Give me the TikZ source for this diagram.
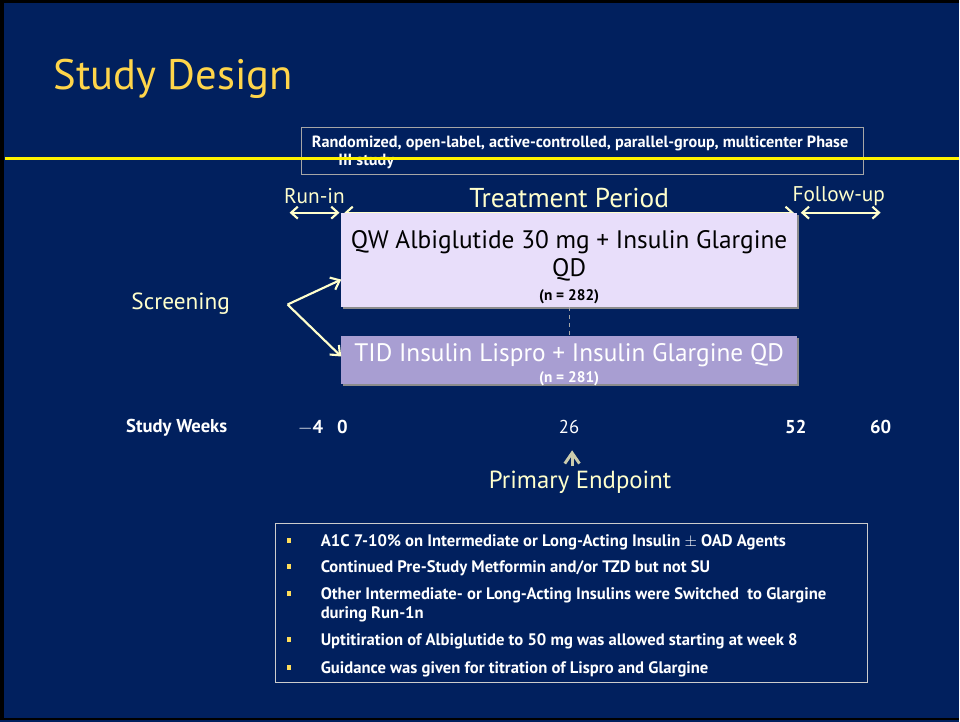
\documentclass[tikz,border=0pt]{standalone}
\usepackage{fontspec}
\setmainfont{PT Sans}
\usetikzlibrary{arrows.meta}

\definecolor{slidebg}{RGB}{1,32,94}
\definecolor{titlegold}{RGB}{255,213,74}
\definecolor{cream}{RGB}{255,255,204}
\definecolor{armone}{RGB}{232,222,250}
\definecolor{armtwo}{RGB}{168,158,210}
\definecolor{bulletgold}{RGB}{255,221,90}

\newcommand\armcountfont{\fontsize{11.5}{13}\selectfont\bfseries}

\tikzset{
  period/.style={cream, line width=1.6pt, {Straight Barb[length=5pt,width=9pt]}-{Straight Barb[length=5pt,width=9pt]}},
  split/.style={cream, line width=1.6pt, -{Straight Barb[length=6pt,width=10pt]}},
  armbox/.style={minimum width=342pt, inner sep=0pt,
    preaction={fill=black!45, transform canvas={shift={(1.5pt,-1.5pt)}}}},
  armtext/.style={align=center, inner sep=0pt, font=\fontsize{19}{21}\selectfont},
  phaselabel/.style={text=cream, font=\fontsize{16}{18}\selectfont},
  weeklabel/.style={text=white, font=\fontsize{14}{16}\selectfont\bfseries},
  bullettext/.style={anchor=west, text=white, font=\fontsize{12.5}{15}\selectfont\bfseries, inner sep=0pt},
}

\begin{document}
\begin{tikzpicture}[x=0.75pt,y=-0.75pt]
% slide frame
\fill[black] (0,0) rectangle (960,723);
\fill[slidebg] (4,3) rectangle (960,719);
\fill[slidebg] (0,721) rectangle (960,723);

\node[anchor=west, text=titlegold, font=\fontsize{32}{38}\selectfont] (title) at (49,79) {Study Design};

% study type box
\node[draw=gray!70!white, minimum width=422pt, minimum height=36pt] (designbox) at (583.5,151) {};
\node[anchor=north west, text=white, align=left, inner sep=0pt,
  font=\fontsize{12.2}{13.5}\selectfont\bfseries] (design) at (312,136)
  {Randomized, open-label, active-controlled, parallel-group, multicenter Phase\\\hspace*{20pt}III study};
\draw[yellow, line width=2.2pt] (5,159) -- (960,159);

% study periods
\coordinate (runA) at (290,213);
\coordinate (runB) at (340,213);
\coordinate (trtA) at (345,213);
\coordinate (trtB) at (795,213);
\coordinate (fupA) at (802,213);
\coordinate (fupB) at (882,213);
\draw[period] (runA) -- (runB);
\draw[period] (trtA) -- (trtB);
\draw[period] (fupA) -- (fupB);
\node[phaselabel] (runin) at (315,196) {Run-in};
\node[text=cream, font=\fontsize{20.5}{22}\selectfont] (treat) at (570,198) {Treatment Period};
\node[phaselabel] (followup) at (840,196) {Follow-up};

% treatment arms
\node[armbox, fill=armone, minimum height=70.5pt] (armA) at (570,260) {};
\node[armtext] (armAtext) at (570,268)
  {QW Albiglutide 30 mg + Insulin Glargine\\QD\\[-3pt]{\armcountfont (n = 282)}};
\node[armbox, fill=armtwo, minimum height=36pt] (armB) at (570,361) {};
\node[armtext, text=white] (armBtext) at (570,365)
  {TID Insulin Lispro + Insulin Glargine QD\\[-5pt]{\armcountfont (n = 281)}};
\draw[gray!70, dashed] (armA.south) -- (armB.north);

% randomisation
\node[text=cream, font=\fontsize{17.5}{20}\selectfont] (screen) at (181,304) {Screening};
\coordinate (fork) at (288,305);
\draw[split] (fork) -- ([yshift=-15pt]armA.west);
\draw[split] (fork) -- ([yshift=3pt]armB.west);

% week scale
\node[text=white, font=\fontsize{14}{16}\selectfont\bfseries] (weeks) at (177,428) {Study Weeks};
\node[weeklabel] (wm4) at (311,428) {$-$4};
\node[weeklabel] (w0) at (343,428) {0};
\node[text=white, font=\fontsize{14}{16}\selectfont] (w26) at (570,428) {26};
\node[weeklabel] (w52) at (797,428) {52};
\node[weeklabel] (w60) at (882,428) {60};

\node[text=cream, font=\fontsize{18.6}{21}\selectfont] (primary) at (581,483) {Primary Endpoint};
\coordinate (endpointbase) at (573,467);
\coordinate (endpointtip) at (573,451);
\draw[cream!60!gray, line width=2.2pt, -{Straight Barb[length=8pt,width=11pt]}] (endpointbase) -- (endpointtip);

% inclusion notes
\draw[gray!40!white] (276,524) rectangle (869,683);
\foreach \y in {541,567,594,640,668}
  \fill[bulletgold] (287,\y-2) rectangle ++(4,5);
\node[bullettext] (noteA) at (321,543) {A1C 7-10\% on Intermediate or Long-Acting Insulin $\pm$ OAD Agents};
\node[bullettext] (noteB) at (321,569) {Continued Pre-Study Metformin and/or TZD but not SU};
\node[bullettext] (noteC) at (321,596) {Other Intermediate- or Long-Acting Insulins were Switched\ \ to Glargine};
\node[bullettext] (noteD) at (321,615) {during Run-1n};
\node[bullettext] (noteE) at (321,642) {Uptitiration of Albiglutide to 50 mg was allowed starting at week 8};
\node[bullettext] (noteF) at (321,670) {Guidance was given for titration of Lispro and Glargine};
\end{tikzpicture}
\end{document}
